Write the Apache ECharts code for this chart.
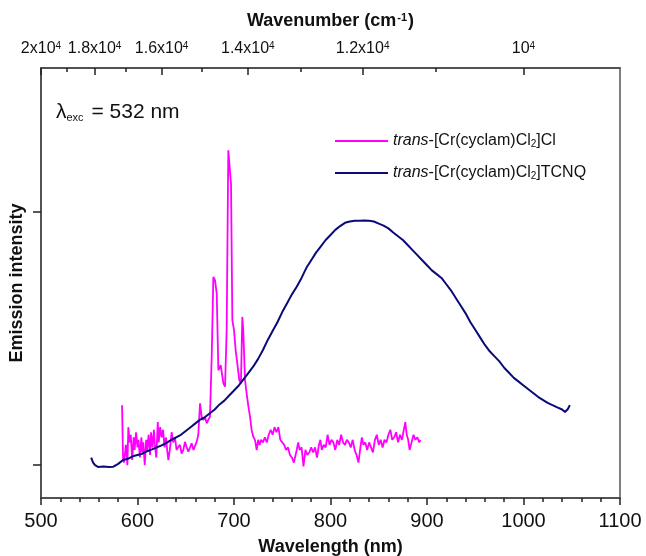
<!DOCTYPE html>
<html>
<head>
<meta charset="utf-8">
<script src="https://cdn.jsdelivr.net/npm/echarts@6/dist/echarts.min.js"></script>
<style>
html,body{margin:0;padding:0;background:#fff;}
#chart{width:646px;height:556px;}
</style>
</head>
<body>
<div id="chart"></div>
<script>
// ---- Data ----
const seriesNames = ['trans-[Cr(cyclam)Cl2]Cl', 'trans-[Cr(cyclam)Cl2]TCNQ'];

// trans-[Cr(cyclam)Cl2]Cl  : [wavelength nm, intensity a.u.]
const clData = [
  [584,0.237],[585,0.03],[586,0.01],[588,0.08],[589.5,0.0],[590.5,0.15],[592,0.09],[593,0.12],[594.5,0.02],
  [596,0.11],[597,0.06],[598.5,0.13],[600,0.07],[601,0.10],[602.5,0.03],[604,0.11],[605,0.05],[606,0.09],
  [607.5,0.0],[609,0.10],[610,0.06],[611.5,0.12],[613,0.04],[614,0.13],[615.5,0.07],[617,0.14],[618,0.08],
  [619.5,0.03],[621,0.17],[622,0.09],[623.5,0.15],[625,0.11],[626.5,0.14],[628,0.07],[629.5,0.11],[631,0.05],
  [632,0.02],[633.5,0.06],[635.4,0.13],[637,0.09],[638.8,0.11],[640.5,0.06],[642.3,0.072],[644,0.08],
  [645.7,0.046],[647.5,0.06],[649.2,0.092],[651,0.07],[652.7,0.053],[654.5,0.07],[656.1,0.086],[658,0.06],
  [659.6,0.053],[661.3,0.092],[663,0.12],[664.8,0.244],[666.5,0.191],[668.2,0.178],[670,0.19],[671.7,0.165],
  [673.5,0.18],[675.1,0.191],[676.9,0.428],[678.6,0.744],[680.3,0.731],[682.1,0.679],[683.8,0.375],
  [686.2,0.395],[689,0.323],[690.7,0.31],[692.4,0.534],[694.1,1.245],[695.8,1.245],[696.9,1.113],
  [698.3,0.573],[700,0.534],[701.7,0.455],[703.4,0.402],[705.5,0.336],[707.2,0.323],[708.6,0.586],
  [709.6,0.534],[711.4,0.336],[713.1,0.283],[715,0.23],[716.6,0.191],[718.3,0.138],[720,0.112],
  [721.8,0.099],[723.5,0.059],[725,0.10],[726.5,0.08],[728,0.10],
  [730,0.09],[732,0.11],[734,0.09],[736,0.12],[738,0.14],[740,0.12],[742,0.15],[744,0.13],[746,0.15],
  [748,0.10],[750,0.09],[752,0.08],[754,0.06],[756,0.07],[758,0.04],[760,0.03],[762,0.01],[763.5,0.005],
  [765,0.06],[766.5,0.09],[768,0.06],[770,0.07],[772,-0.005],[774,0.06],[776,0.04],[778,0.05],[780,0.07],
  [782,0.05],[784,0.07],[786,0.03],[788,0.08],[789.5,0.10],[791,0.06],[793,0.08],[795,0.07],[797,0.12],
  [799,0.08],[801,0.10],[803,0.09],[805,0.06],[807,0.10],[809,0.08],[811,0.12],[813,0.09],[815,0.08],
  [817,0.10],[819,0.09],[821,0.07],[823,0.10],[825,0.06],[827,0.04],[829,0.01],[831,0.07],[832.5,0.11],
  [834,0.08],[836,0.09],[838,0.06],[840,0.09],[842,0.07],[844,0.05],[846,0.10],[848,0.12],[850,0.08],
  [852,0.10],[854,0.07],[856,0.10],[858,0.09],[860,0.12],[862,0.14],[864,0.10],[866,0.11],[868,0.13],
  [870,0.09],[872,0.12],[874,0.10],[876,0.14],[877.5,0.17],[879,0.12],[880.5,0.10],[882,0.06],[884,0.09],
  [886,0.12],[888,0.10],[890,0.11],[892,0.09],[893,0.10]
];

// trans-[Cr(cyclam)Cl2]TCNQ : [wavelength nm, intensity a.u.]
const tcnqData = [
  [552,0.03],[554,0.01],[556,0.0],[559,-0.007],[565,-0.005],[570,-0.007],[575,-0.006],[580,0.005],[585,0.02],
  [590,0.025],[595,0.035],[600,0.04],[605,0.045],[610,0.055],[615,0.062],[620,0.07],[625,0.078],[630,0.088],
  [635,0.10],[640,0.11],[645,0.12],[650,0.135],[655,0.15],[660,0.165],[665,0.18],[670,0.19],[675,0.205],
  [680,0.22],[685,0.24],[690,0.255],[695,0.275],[700,0.295],[705,0.315],[710,0.34],[715,0.365],[720,0.39],
  [725,0.42],[730,0.455],[735,0.495],[740,0.53],[745,0.565],[750,0.605],[755,0.64],[760,0.675],[765,0.705],
  [770,0.74],[775,0.78],[780,0.81],[785,0.84],[790,0.865],[795,0.89],[800,0.91],[805,0.93],[810,0.945],
  [815,0.958],[820,0.963],[825,0.966],[830,0.966],[835,0.967],[840,0.966],[845,0.963],[850,0.955],[855,0.947],
  [860,0.936],[865,0.92],[870,0.905],[875,0.89],[880,0.87],[885,0.85],[890,0.83],[895,0.81],[900,0.79],
  [905,0.77],[910,0.755],[915,0.74],[920,0.715],[925,0.69],[930,0.66],[935,0.63],[940,0.60],[945,0.565],
  [950,0.535],[955,0.505],[960,0.475],[965,0.45],[970,0.43],[975,0.41],[980,0.385],[985,0.365],[990,0.345],
  [995,0.33],[1000,0.315],[1005,0.30],[1010,0.285],[1015,0.27],[1020,0.258],[1025,0.246],[1030,0.237],
  [1035,0.228],[1040,0.22],[1043,0.21],[1046,0.222],[1048,0.237]
];

// Axis ticks / labels
const bottomTicks = [500, 600, 700, 800, 900, 1000, 1100];
const yTickValues = [0, 1];
const topLabelWavenumbers = [20000, 18000, 16000, 14000, 12000, 10000];
const topTickLabels = ['2x10{sup|4}', '1.8x10{sup|4}', '1.6x10{sup|4}', '1.4x10{sup|4}', '1.2x10{sup|4}', '10{sup|4}'];
const topMinorWavenumbers = [19000, 17000, 15000, 13000, 11000];

// ---- Chart ----
const FONT = 'Liberation Sans, Arial, sans-serif';
const topLabelNm = topLabelWavenumbers.map(w => 1e7 / w);
const topMinorNm = topMinorWavenumbers.map(w => 1e7 / w);

const chart = echarts.init(document.getElementById('chart'), null, {renderer: 'canvas'});

const legendRich = {
  it: {fontStyle: 'italic', fontSize: 16, fontFamily: FONT, color: '#111'},
  sub: {fontSize: 10, fontFamily: FONT, color: '#111', verticalAlign: 'bottom', lineHeight: 10, padding: [14, 0, 0, 0]}
};

const option = {
  animation: false,
  backgroundColor: '#fff',
  grid: {left: 41, right: 26, top: 68, bottom: 58, outerBoundsMode: 'none', containLabel: false,
    show: true, borderColor: '#555', borderWidth: 1.5, backgroundColor: 'transparent'},
  legend: {
    left: 330, top: 120, orient: 'vertical', itemWidth: 53, itemHeight: 2, itemGap: 8,
    icon: 'rect',
    data: seriesNames,
    formatter: function (name) {
      return name.replace('trans', '{it|trans}').replace('Cl2', 'Cl{sub|2}');
    },
    textStyle: {fontSize: 16, fontFamily: FONT, color: '#111', rich: legendRich}
  },
  graphic: [{
    type: 'text', left: 56, top: 94,
    style: {
      text: 'λ{sub|exc} = 532 nm',
      font: '21px ' + FONT, fill: '#111',
      rich: {
        sub: {fontSize: 11, fontFamily: FONT, fill: '#111', verticalAlign: 'bottom', lineHeight: 11, padding: [18, 2, 0, 0]}
      }
    }
  }],
  xAxis: [{
    type: 'value', position: 'bottom', min: 500, max: 1100, interval: 100,
    name: 'Wavelength (nm)', nameLocation: 'middle', nameGap: 40,
    nameTextStyle: {fontSize: 18, fontWeight: 'bold', fontFamily: FONT, color: '#111'},
    axisLine: {show: true, onZero: false, lineStyle: {color: '#444', width: 1.5}},
    axisTick: {show: true, inside: false, length: 7, lineStyle: {color: '#222', width: 1.5}, customValues: bottomTicks},
    minorTick: {show: true, splitNumber: 5, length: 4, lineStyle: {color: '#222', width: 1.5}},
    axisLabel: {fontSize: 20, fontFamily: FONT, color: '#111', margin: 13, customValues: bottomTicks,
      formatter: function (v) { return String(v); }},
    splitLine: {show: false}
  }, {
    type: 'value', position: 'top', min: 500, max: 1100,
    name: 'Wavenumber (cm{sup|-1})', nameLocation: 'middle', nameGap: 38,
    nameTextStyle: {fontSize: 18, fontWeight: 'bold', fontFamily: FONT, color: '#111',
      rich: {sup: {fontSize: 11, fontWeight: 'bold', fontFamily: FONT, color: '#111', verticalAlign: 'top', lineHeight: 11, padding: [0, 1, 10, 1]}}},
    axisLine: {show: true, onZero: false, lineStyle: {color: '#444', width: 1.5}},
    axisTick: {show: true, inside: true, length: 7, lineStyle: {color: '#222', width: 1.5}, customValues: topLabelNm},
    axisLabel: {
      fontSize: 16, fontFamily: FONT, color: '#111', margin: 11, customValues: topLabelNm,
      formatter: function (v) {
        const i = topLabelNm.findIndex(n => Math.abs(n - v) < 0.5);
        return i >= 0 ? topTickLabels[i] : '';
      },
      rich: {sup: {fontSize: 10, fontFamily: FONT, color: '#111', verticalAlign: 'top', lineHeight: 10, padding: [0, 0, 10, 0]}}
    },
    splitLine: {show: false}
  }, {
    type: 'value', position: 'top', min: 500, max: 1100,
    axisLine: {show: false, onZero: false},
    axisTick: {show: true, inside: true, length: 4, lineStyle: {color: '#222', width: 1.5}, customValues: topMinorNm},
    axisLabel: {show: false},
    splitLine: {show: false}
  }],
  yAxis: [{
    type: 'value', min: -0.13, max: 1.57,
    name: 'Emission intensity', nameLocation: 'middle', nameGap: 15, nameRotate: 90,
    nameTextStyle: {fontSize: 18, fontWeight: 'bold', fontFamily: FONT, color: '#111'},
    axisLine: {show: true, onZero: false, lineStyle: {color: '#444', width: 1.5}},
    axisTick: {show: true, inside: false, length: 8, lineStyle: {color: '#222', width: 1.5}, customValues: yTickValues},
    axisLabel: {show: false},
    splitLine: {show: false}
  }],
  series: [{
    name: seriesNames[0], type: 'line', xAxisIndex: 0, yAxisIndex: 0,
    data: clData, symbol: 'none', showSymbol: false,
    lineStyle: {color: '#ff00ff', width: 1.8}, itemStyle: {color: '#ff00ff'}
  }, {
    name: seriesNames[1], type: 'line', xAxisIndex: 0, yAxisIndex: 0,
    data: tcnqData, symbol: 'none', showSymbol: false,
    lineStyle: {color: '#0a0a78', width: 2}, itemStyle: {color: '#0a0a78'}
  }]
};
chart.setOption(option);
</script>
</body>
</html>
